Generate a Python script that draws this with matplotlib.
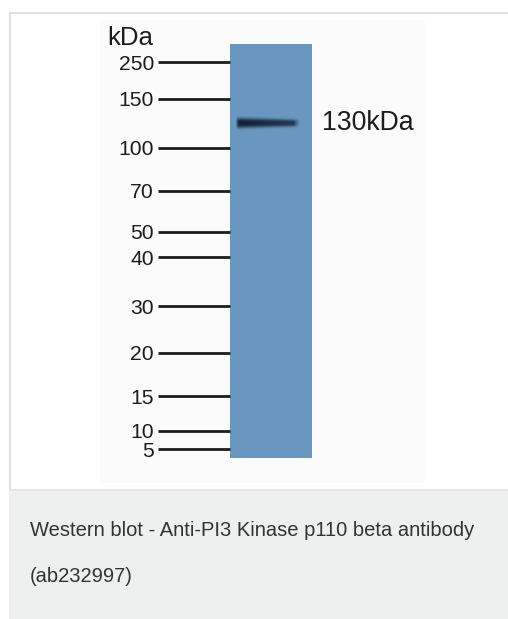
import numpy as np
import matplotlib
matplotlib.use('Agg')
import matplotlib.pyplot as plt
from matplotlib.patches import Rectangle
from matplotlib.colors import to_rgb

plt.rcParams['font.family'] = ['Liberation Sans', 'DejaVu Sans']

# marker ladder: label and migration distance (px from top of lane)
marker_labels = ['250', '150', '100', '70', '50', '40', '30', '20', '15', '10', '5']
marker_pos = [18.3, 55.0, 103.7, 147.0, 187.7, 213.3, 262.0, 308.7, 352.0, 386.7, 405.3]

# detected band
band_label = '130kDa'
band_pos = 79.0
band_x = (0.07, 0.845)   # fraction of lane width covered by the band

lane_len = 414.0
caption = ['Western blot - Anti-PI3 Kinase p110 beta antibody', '(ab232997)']

W, H = 508, 619
fig = plt.figure(figsize=(W / 100, H / 100), dpi=100)
fig.patch.set_facecolor('white')


def px_rect(x0, y0, x1, y1, z, **kw):
    # rectangle in figure pixel coords (y from top)
    fig.patches.append(Rectangle((x0 / W, 1 - y1 / H), (x1 - x0) / W, (y1 - y0) / H,
                                 transform=fig.transFigure, figure=fig, zorder=z, **kw))


# frame + caption box
px_rect(100, 20, 425, 483, -5, facecolor='#fbfbfb', edgecolor='none')
px_rect(9, 12, 508, 14, -4, facecolor='#dedede', edgecolor='none')
px_rect(9, 12, 11, 490, -4, facecolor='#dedede', edgecolor='none')
px_rect(9, 490, 508, 619, -4, facecolor='#eeefef', edgecolor='none')
px_rect(9, 489, 508, 491, -3, facecolor='#e2e3e3', edgecolor='none')

# blot lane
ax = fig.add_axes([230 / W, 1 - 458 / H, 82 / W, 414 / H])
ax.set_facecolor('#6a97c0')
for s in ax.spines.values():
    s.set_visible(False)
ax.set_xticks([])
ax.set_yticks(marker_pos)
ax.set_yticklabels(marker_labels)
ax.tick_params(axis='y', direction='out', length=51.8, width=2.0, color='#1c1c1c',
               pad=3, labelsize=15.2, labelcolor='#1c1c1c')

# band as a soft dark smear, heavier on the left end
nx, ny = 200, 60
xs = np.linspace(0, 1, nx)
ys = np.linspace(-1, 1, ny)
horiz = np.clip(1.0 - 0.25 * xs, 0, 1)
horiz *= np.clip(xs / 0.05, 0, 1) ** 0.5 * np.clip((1 - xs) / 0.1, 0, 1)
thick = 0.72 - 0.24 * xs
vert = np.exp(-(np.abs(ys[:, None]) / thick[None, :]) ** 3)
alpha = np.clip(vert * horiz[None, :] * 1.05, 0, 1)
rgba = np.zeros((ny, nx, 4))
rgba[..., :3] = to_rgb('#132338')
rgba[..., 3] = alpha
ax.imshow(rgba, extent=[band_x[0], band_x[1], band_pos + 7, band_pos - 7],
          aspect='auto', interpolation='bilinear', zorder=2)
ax.set_xlim(0, 1)
ax.set_ylim(lane_len, 0)

fig.text(153 / W, 1 - 45 / H, 'kDa', ha='right', va='baseline', fontsize=18.6, color='#1c1c1c')
fig.text(322 / W, 1 - 130 / H, band_label, ha='left', va='baseline', fontsize=19.2, color='#1c1c1c')

fig.text(30 / W, 1 - 536 / H, caption[0], ha='left', va='baseline', fontsize=14.5, color='#333333')
fig.text(30 / W, 1 - 582 / H, caption[1], ha='left', va='baseline', fontsize=14.5, color='#333333')

fig.savefig('out.png', dpi=100)
